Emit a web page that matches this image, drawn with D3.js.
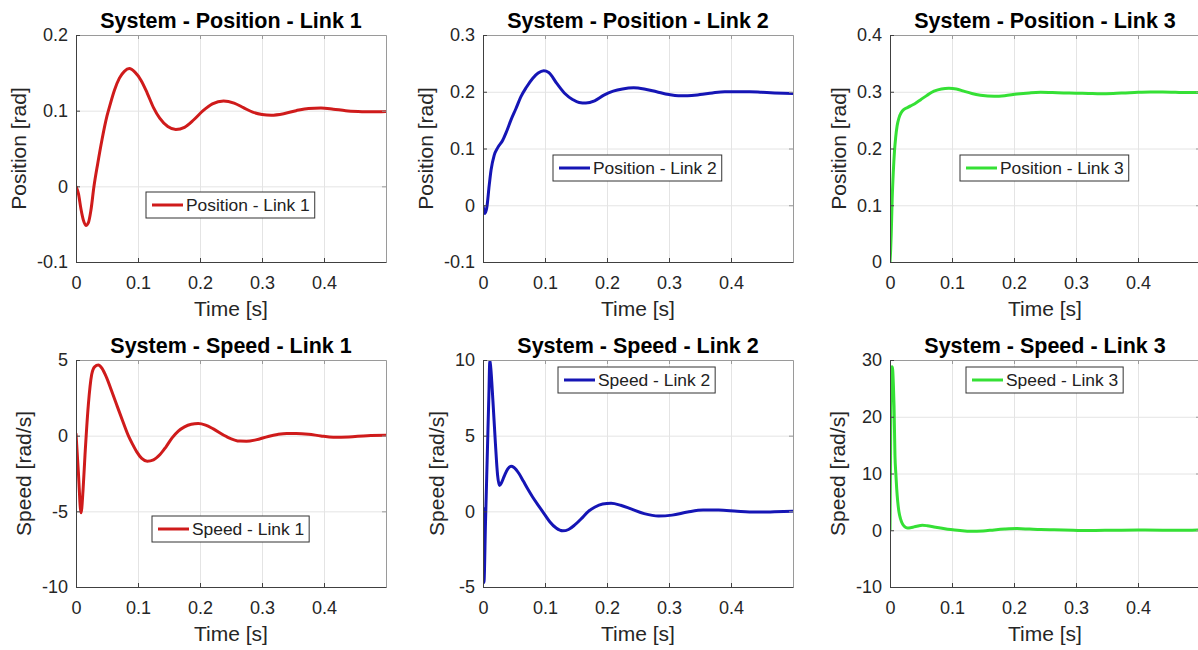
<html>
<head>
    <script src="https://d3js.org/d3.v7.min.js"></script>
    <style>
        body { margin: 0; background: #fff; }
        text { font-family: "Liberation Sans", Arial, sans-serif; }
        .tick text { font-size: 18px; fill: #262626; }
        .grid line { stroke: #e4e4e4; }
        .grid .domain { stroke: none; }
        .axis path, .axis line { stroke: #404040; }
        .axis2 path, .axis2 line { stroke: #9a9a9a; }
    </style>
</head>
<body>
<svg id="plot" width="1198" height="650"></svg>
<script>
    // x axis (time) shared by all panels
    const xTicks = [0, 0.1, 0.2, 0.3, 0.4];
    const xDomain = [0, 0.5];

    // y tick values per panel
    const pos1Ticks = [-0.1, 0, 0.1, 0.2];
    const pos2Ticks = [-0.1, 0, 0.1, 0.2, 0.3];
    const pos3Ticks = [0, 0.1, 0.2, 0.3, 0.4];
    const spd1Ticks = [-10, -5, 0, 5];
    const spd2Ticks = [-5, 0, 5, 10];
    const spd3Ticks = [-10, 0, 10, 20, 30];

    // position - link 1
    const pos1Time = [0, 0.004, 0.008, 0.012, 0.016, 0.02, 0.024, 0.029, 0.035, 0.042, 0.05, 0.055, 0.062, 0.07, 0.078, 0.086, 0.095, 0.105, 0.115, 0.125, 0.135, 0.148, 0.161, 0.175, 0.19, 0.205, 0.22, 0.238, 0.255, 0.27, 0.285, 0.3, 0.315, 0.335, 0.355, 0.375, 0.395, 0.415, 0.435, 0.455, 0.475, 0.5];
    const pos1Values = [0, -0.01, -0.03, -0.045, -0.0516, -0.048, -0.032, 0, 0.03, 0.062, 0.093, 0.108, 0.127, 0.143, 0.152, 0.1556, 0.151, 0.14, 0.123, 0.104, 0.09, 0.079, 0.0751, 0.078, 0.088, 0.1, 0.109, 0.1129, 0.11, 0.104, 0.098, 0.095, 0.094, 0.096, 0.1, 0.103, 0.1035, 0.102, 0.1, 0.099, 0.0985, 0.099];

    // position - link 2
    const pos2Time = [0, 0.003, 0.006, 0.01, 0.013, 0.018, 0.024, 0.032, 0.038, 0.045, 0.053, 0.061, 0.07, 0.08, 0.089, 0.098, 0.106, 0.119, 0.132, 0.145, 0.155, 0.166, 0.18, 0.195, 0.21, 0.225, 0.243, 0.26, 0.28, 0.3, 0.315, 0.33, 0.35, 0.37, 0.39, 0.41, 0.43, 0.45, 0.47, 0.5];
    const pos2Values = [0, -0.0147, -0.005, 0.035, 0.062, 0.088, 0.102, 0.115, 0.13, 0.15, 0.17, 0.191, 0.208, 0.2235, 0.233, 0.237, 0.234, 0.2147, 0.197, 0.186, 0.181, 0.18, 0.184, 0.194, 0.201, 0.205, 0.207, 0.205, 0.2, 0.195, 0.193, 0.193, 0.195, 0.198, 0.2, 0.2, 0.2, 0.199, 0.198, 0.197];

    // position - link 3
    const pos3Time = [0, 0.001, 0.002, 0.0035, 0.0054, 0.0072, 0.0091, 0.0115, 0.0145, 0.018, 0.0226, 0.028, 0.0333, 0.04, 0.0495, 0.06, 0.071, 0.083, 0.095, 0.107, 0.119, 0.132, 0.146, 0.168, 0.185, 0.205, 0.225, 0.243, 0.262, 0.28, 0.3, 0.32, 0.34, 0.36, 0.38, 0.4, 0.42, 0.44, 0.46, 0.48, 0.5];
    const pos3Values = [0, 0.02, 0.05, 0.11, 0.16, 0.195, 0.219, 0.24, 0.254, 0.263, 0.269, 0.272, 0.275, 0.279, 0.286, 0.294, 0.301, 0.305, 0.306, 0.305, 0.301, 0.297, 0.294, 0.292, 0.293, 0.296, 0.298, 0.299, 0.2985, 0.298, 0.2975, 0.297, 0.2965, 0.297, 0.298, 0.299, 0.2995, 0.2995, 0.299, 0.2985, 0.2985];

    // speed - link 1
    const spd1Time = [0, 0.0038, 0.0081, 0.0115, 0.0145, 0.0199, 0.0253, 0.03, 0.036, 0.042, 0.0495, 0.0575, 0.0656, 0.075, 0.0844, 0.091, 0.098, 0.106, 0.115, 0.125, 0.1355, 0.145, 0.155, 0.165, 0.175, 0.186, 0.197, 0.209, 0.2215, 0.243, 0.2645, 0.275, 0.29, 0.31, 0.325, 0.34, 0.355, 0.375, 0.395, 0.415, 0.44, 0.47, 0.5];
    const spd1Values = [0.16, -2.4, -5.1, -3.5, -1.29, 2.04, 4.04, 4.55, 4.67, 4.45, 3.82, 2.95, 2.04, 1.0, 0, -0.55, -1.07, -1.5, -1.69, -1.6, -1.25, -0.75, -0.15, 0.3, 0.58, 0.75, 0.8, 0.7, 0.45, -0.07, -0.36, -0.37, -0.28, -0.05, 0.08, 0.15, 0.15, 0.1, -0.02, -0.1, -0.08, 0, 0.02];

    // speed - link 2
    const spd2Time = [0, 0.0004, 0.0008, 0.0015, 0.004, 0.006, 0.008, 0.0095, 0.011, 0.0125, 0.016, 0.02, 0.0235, 0.0265, 0.03, 0.035, 0.04, 0.0452, 0.05, 0.058, 0.065, 0.072, 0.08, 0.09, 0.099, 0.108, 0.118, 0.1285, 0.138, 0.148, 0.158, 0.17, 0.18, 0.193, 0.2065, 0.222, 0.2387, 0.26, 0.283, 0.305, 0.33, 0.355, 0.38, 0.41, 0.44, 0.47, 0.5];
    const spd2Values = [0, -1, 0.2, -4.7, -0.8, 2.3, 5.4, 7.7, 10, 9.5, 7.3, 4.5, 2.4, 1.7, 1.9, 2.4, 2.8, 2.98, 2.9, 2.5, 2.0, 1.49, 0.95, 0.35, -0.18, -0.7, -1.1, -1.29, -1.2, -0.9, -0.51, 0, 0.27, 0.48, 0.53, 0.4, 0.16, -0.15, -0.31, -0.25, -0.05, 0.08, 0.08, 0, -0.05, -0.03, 0];

    // speed - link 3
    const spd3Time = [0, 0.0008, 0.0015, 0.0022, 0.0033, 0.0043, 0.0055, 0.0065, 0.008, 0.0095, 0.0108, 0.0125, 0.0145, 0.017, 0.0199, 0.024, 0.028, 0.033, 0.0387, 0.045, 0.052, 0.06, 0.071, 0.084, 0.0978, 0.113, 0.13, 0.15, 0.168, 0.185, 0.205, 0.225, 0.243, 0.28, 0.32, 0.36, 0.4, 0.44, 0.48, 0.5];
    const spd3Values = [0, 12, 24, 28.5, 28.8, 28.3, 25.5, 22, 13.2, 9.8, 7.35, 5, 3.2, 2.0, 1.18, 0.6, 0.41, 0.45, 0.59, 0.75, 0.88, 0.8, 0.59, 0.35, 0.12, -0.05, -0.18, -0.12, 0.06, 0.2, 0.29, 0.2, 0.12, 0.06, -0.05, 0, 0.05, 0.02, 0, 0.05];

    const red = "#cf1b1b", blue = "#1515b5", green = "#35e035";

    const colLeft = [76, 483, 890];
    const rowTop = [35, 360];
    const plotW = 310, plotH = 227;

    const panels = [
        { title: "System - Position - Link 1", ylabel: "Position [rad]", t: pos1Time, v: pos1Values, ticks: pos1Ticks, color: red, legend: "Position - Link 1", col: 0, row: 0, leg: [146, 192] },
        { title: "System - Position - Link 2", ylabel: "Position [rad]", t: pos2Time, v: pos2Values, ticks: pos2Ticks, color: blue, legend: "Position - Link 2", col: 1, row: 0, leg: [553, 155] },
        { title: "System - Position - Link 3", ylabel: "Position [rad]", t: pos3Time, v: pos3Values, ticks: pos3Ticks, color: green, legend: "Position - Link 3", col: 2, row: 0, leg: [960, 155] },
        { title: "System - Speed - Link 1", ylabel: "Speed [rad/s]", t: spd1Time, v: spd1Values, ticks: spd1Ticks, color: red, legend: "Speed - Link 1", col: 0, row: 1, leg: [152, 516] },
        { title: "System - Speed - Link 2", ylabel: "Speed [rad/s]", t: spd2Time, v: spd2Values, ticks: spd2Ticks, color: blue, legend: "Speed - Link 2", col: 1, row: 1, leg: [558, 367] },
        { title: "System - Speed - Link 3", ylabel: "Speed [rad/s]", t: spd3Time, v: spd3Values, ticks: spd3Ticks, color: green, legend: "Speed - Link 3", col: 2, row: 1, leg: [966, 367] }
    ];

    const svg = d3.select("#plot");
    svg.append("rect").attr("width", 1198).attr("height", 650).attr("fill", "white");

    panels.forEach((p, i) => {
        const g = svg.append("g").attr("transform", `translate(${colLeft[p.col]},${rowTop[p.row]})`);
        const x = d3.scaleLinear().domain(xDomain).range([0, plotW]);
        const y = d3.scaleLinear().domain(d3.extent(p.ticks)).range([plotH, 0]);

        // gridlines
        g.append("g").attr("class", "grid").attr("transform", `translate(0,${plotH})`)
            .call(d3.axisBottom(x).tickValues(xTicks.concat([0.5])).tickSize(-plotH).tickFormat(""));
        g.append("g").attr("class", "grid")
            .call(d3.axisLeft(y).tickValues(p.ticks).tickSize(-plotW).tickFormat(""));

        // data line, clipped to the axes box
        g.append("clipPath").attr("id", "clip" + i)
            .append("rect").attr("width", plotW).attr("height", plotH);
        const line = d3.line().x(d => x(d[0])).y(d => y(d[1])).curve(d3.curveMonotoneX);
        g.append("path").datum(d3.zip(p.t, p.v))
            .attr("clip-path", `url(#clip${i})`)
            .attr("fill", "none")
            .attr("stroke", p.color)
            .attr("stroke-width", 3)
            .attr("stroke-linejoin", "round")
            .attr("d", line);

        // top / right box with inward ticks
        g.append("g").attr("class", "axis2")
            .call(d3.axisTop(x).tickValues(xTicks).tickSizeInner(-4).tickSizeOuter(0).tickFormat(""));
        g.append("g").attr("class", "axis2").attr("transform", `translate(${plotW},0)`)
            .call(d3.axisRight(y).tickValues(p.ticks).tickSizeInner(-4).tickSizeOuter(0).tickFormat(""));

        // bottom / left axes
        g.append("g").attr("class", "axis").attr("transform", `translate(0,${plotH})`)
            .call(d3.axisBottom(x).tickValues(xTicks).tickSizeInner(-4).tickSizeOuter(0).tickPadding(14).tickFormat(d => String(d)));
        const yAx = g.append("g").attr("class", "axis")
            .call(d3.axisLeft(y).tickValues(p.ticks).tickSizeInner(-4).tickSizeOuter(0).tickPadding(8).tickFormat(d => String(d)));

        const maxW = d3.max(yAx.selectAll(".tick text").nodes(), n => n.getComputedTextLength());

        g.append("text")
            .attr("transform", `translate(${-8 - maxW - 11},${plotH / 2}) rotate(-90)`)
            .attr("text-anchor", "middle")
            .attr("font-size", "21px")
            .attr("fill", "#262626")
            .text(p.ylabel);

        g.append("text")
            .attr("x", plotW / 2).attr("y", plotH + 54)
            .attr("text-anchor", "middle")
            .attr("font-size", "21px")
            .attr("fill", "#262626")
            .text("Time [s]");

        g.append("text")
            .attr("x", plotW / 2).attr("y", -7)
            .attr("text-anchor", "middle")
            .attr("font-size", "21.5px")
            .attr("font-weight", "bold")
            .attr("fill", "black")
            .text(p.title);

        // legend
        const lg = svg.append("g").attr("transform", `translate(${p.leg[0]},${p.leg[1]})`);
        const box = lg.append("rect").attr("height", 26).attr("fill", "white").attr("stroke", "#333").attr("stroke-width", 1);
        lg.append("line").attr("x1", 6).attr("x2", 37).attr("y1", 13).attr("y2", 13)
            .attr("stroke", p.color).attr("stroke-width", 3);
        const lt = lg.append("text").attr("x", 40).attr("y", 19)
            .attr("font-size", "17.4px").attr("fill", "#222").text(p.legend);
        box.attr("width", 40 + lt.node().getComputedTextLength() + 5);
    });
</script>
</body>
</html>
